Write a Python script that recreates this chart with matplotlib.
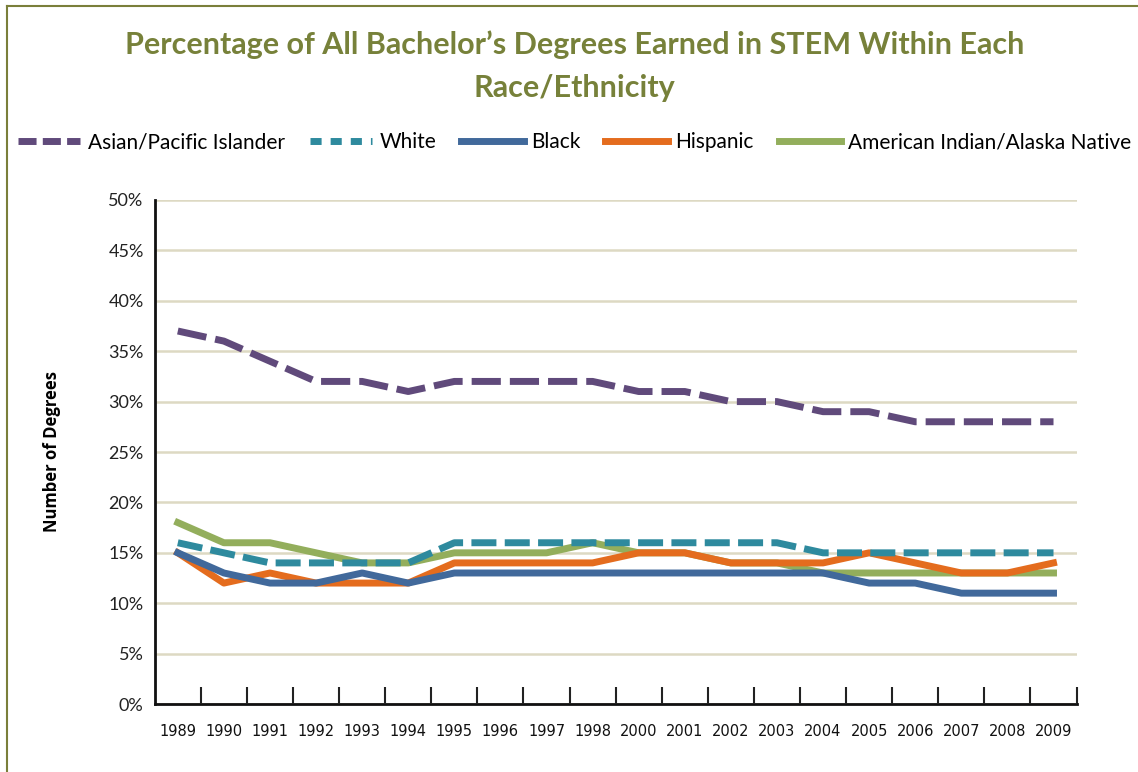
import matplotlib
matplotlib.use("Agg")
import matplotlib.pyplot as plt
from matplotlib.lines import Line2D
from matplotlib.ticker import FixedLocator

plt.rcParams['font.family'] = ['Lato', 'DejaVu Sans']

years = ['1989', '1990', '1991', '1992', '1993', '1994', '1995', '1996', '1997', '1998',
         '2000', '2001', '2002', '2003', '2004', '2005', '2006', '2007', '2008', '2009']
asian = [37, 36, 34, 32, 32, 31, 32, 32, 32, 32, 31, 31, 30, 30, 29, 29, 28, 28, 28, 28]
white = [16, 15, 14, 14, 14, 14, 16, 16, 16, 16, 16, 16, 16, 16, 15, 15, 15, 15, 15, 15]
black = [15, 13, 12, 12, 13, 12, 13, 13, 13, 13, 13, 13, 13, 13, 13, 12, 12, 11, 11, 11]
hispanic = [15, 12, 13, 12, 12, 12, 14, 14, 14, 14, 15, 15, 14, 14, 14, 15, 14, 13, 13, 14]
amind = [18, 16, 16, 15, 14, 14, 15, 15, 15, 16, 15, 15, 14, 14, 13, 13, 13, 13, 13, 13]

names = ['Asian/Pacific Islander', 'White', 'Black', 'Hispanic', 'American Indian/Alaska Native']
colors = ['#604A7B', '#2E8A9E', '#41699B', '#E46C1E', '#93AE5C']

fig = plt.figure(figsize=(11.38, 7.72), dpi=100)
ax = fig.add_axes([0.136, 0.088, 0.81, 0.653])

x = list(range(len(years)))
lw = 5
# solid lines first, dashed ones on top
ax.plot(x, amind, color=colors[4], lw=lw, zorder=3)
ax.plot(x, hispanic, color=colors[3], lw=lw, zorder=3)
ax.plot(x, black, color=colors[2], lw=lw, zorder=4)
ax.plot(x, white, color=colors[1], lw=lw, dashes=(3.6, 1.2), dash_capstyle='butt', zorder=5)
ax.plot(x, asian, color=colors[0], lw=lw, dashes=(4.2, 1.3), dash_capstyle='butt', zorder=5)

ax.set_xlim(-0.5, len(years) - 0.5)
ax.set_ylim(0, 50)
ax.set_yticks(range(0, 51, 5))
ax.set_yticklabels([f'{v}%' for v in range(0, 51, 5)], fontsize=13, color='#222222')
ax.tick_params(axis='y', length=0, pad=8)
ax.yaxis.grid(True, color='#DDD9C3', lw=1.8)
ax.set_axisbelow(True)

ax.set_xticks(x)
ax.set_xticklabels(years, fontsize=10.5, family='DejaVu Sans', color='#111111')
ax.tick_params(axis='x', which='major', length=0, pad=14)
ax.xaxis.set_minor_locator(FixedLocator([i + 0.5 for i in range(len(years))]))
ax.tick_params(axis='x', which='minor', direction='in', length=12, width=1.5, color='#222222')

for s in ['top', 'right']:
    ax.spines[s].set_visible(False)
for s in ['left', 'bottom']:
    ax.spines[s].set_linewidth(2)
    ax.spines[s].set_color('#111111')

fig.text(0.046, 0.415, 'Number of Degrees', rotation=90, ha='center', va='center',
         fontsize=12, fontweight='bold', family='Open Sans')

fig.text(0.505, 0.942, 'Percentage of All Bachelor\u2019s Degrees Earned in STEM Within Each',
         ha='center', va='center', fontsize=22, fontweight='bold', color='#77813A')
fig.text(0.505, 0.886, 'Race/Ethnicity',
         ha='center', va='center', fontsize=22, fontweight='bold', color='#77813A')

handles = [
    Line2D([], [], color=colors[0], lw=lw, dashes=(2.6, 0.9), dash_capstyle='butt'),
    Line2D([], [], color=colors[1], lw=lw, dashes=(1.6, 1.3), dash_capstyle='butt'),
    Line2D([], [], color=colors[2], lw=lw),
    Line2D([], [], color=colors[3], lw=lw),
    Line2D([], [], color=colors[4], lw=lw),
]
fig.legend(handles, names, loc='center', bbox_to_anchor=(0.505, 0.816), ncol=5,
           frameon=False, fontsize=15, handlelength=3.0, handletextpad=0.35,
           columnspacing=1.2)

# figure frame, top and left edges
fig.add_artist(Line2D([0.006, 1.0], [0.992, 0.992], color='#7A7F3A', lw=1.5,
                      transform=fig.transFigure))
fig.add_artist(Line2D([0.006, 0.006], [0.0, 0.992], color='#7A7F3A', lw=1.5,
                      transform=fig.transFigure))

fig.savefig('out.png', dpi=100)
